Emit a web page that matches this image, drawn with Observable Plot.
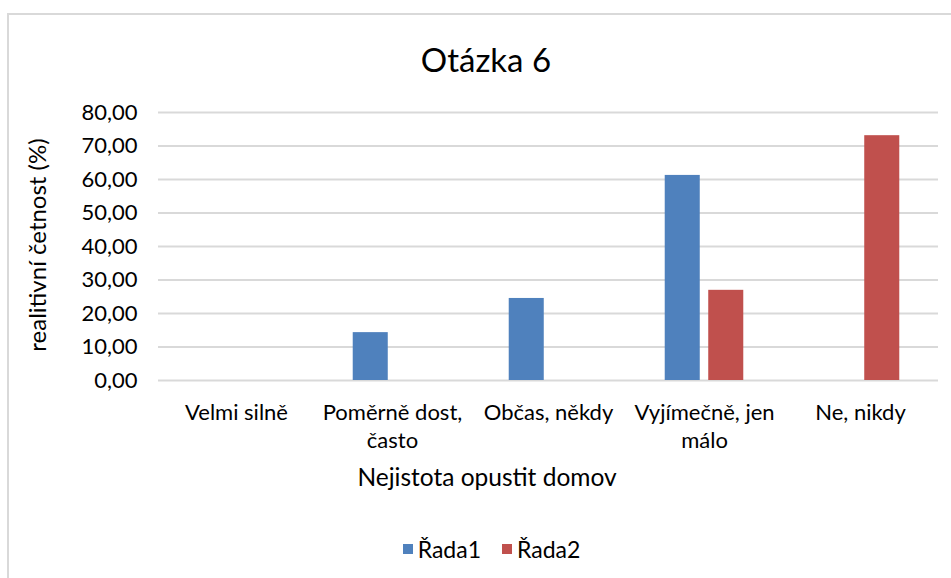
<!DOCTYPE html>
<html>
<head>
<meta charset="utf-8">
<script src="https://cdn.jsdelivr.net/npm/d3@7"></script>
<script src="https://cdn.jsdelivr.net/npm/@observablehq/plot@0.6"></script>
<style>
  html, body { margin: 0; padding: 0; background: #fff; }
  body { width: 951px; height: 578px; position: relative; overflow: hidden; font-family: Lato, "Open Sans", sans-serif; color: #000; }
  #frame { position: absolute; left: 7px; top: 13px; width: 1000px; height: 600px; border-top: 2px solid #d9d9d9; border-left: 2px solid #d9d9d9; }
  #chart { position: absolute; left: 0; top: 0; }
  #title { position: absolute; left: 0; width: 972px; top: 40px; text-align: center; font-size: 33px; line-height: 38px; }
  #ytitle { position: absolute; left: 37px; top: 245px; width: 300px; margin-left: -150px; margin-top: -15px; height: 30px; line-height: 30px; text-align: center; font-size: 24px; transform: rotate(-90deg); white-space: nowrap; }
  #xtitle { position: absolute; left: 0; width: 974px; top: 463px; text-align: center; font-size: 24.5px; line-height: 28px; }
  #legend { position: absolute; left: 0; width: 983px; top: 536px; display: flex; justify-content: center; gap: 21px; font-size: 23px; line-height: 26px; }
  #legend span.item { display: inline-flex; align-items: center; gap: 5px; }
  #legend span.sw { display: inline-block; width: 10px; height: 10px; }
</style>
</head>
<body>
<div id="frame"></div>
<div id="chart"></div>
<div id="title">Otázka 6</div>
<div id="ytitle"></div>
<div id="xtitle">Nejistota opustit domov</div>
<div id="legend"></div>
<script>
const categories = ["Velmi silně", "Poměrně dost, často", "Občas, někdy", "Vyjímečně, jen málo", "Ne, nikdy"];
const tickLabels = ["Velmi silně", "Poměrně dost,\nčasto", "Občas, někdy", "Vyjímečně, jen\nmálo", "Ne, nikdy"];
const seriesNames = ["Řada1", "Řada2"];
const seriesColors = ["#4F81BD", "#C0504D"];
const rada1 = [0, 14.29, 24.49, 61.22, 0];
const rada2 = [0, 0, 0, 26.92, 73.08];
const yTicks = [0, 10, 20, 30, 40, 50, 60, 70, 80];
const yLabel = "realitivní četnost (%)";

document.getElementById("ytitle").textContent = yLabel;

const rows = [];
categories.forEach((c, i) => {
  rows.push({category: c, series: seriesNames[0], value: rada1[i]});
  rows.push({category: c, series: seriesNames[1], value: rada2[i]});
});
const labelMap = new Map(categories.map((c, i) => [c, tickLabels[i]]));
const fmt = d => d3.format(".2f")(d).replace(".", ",");

const plot = Plot.plot({
  width: 951,
  height: 500,
  marginLeft: 158,
  marginRight: 13,
  marginTop: 112,
  marginBottom: 120,
  style: {fontFamily: "Lato, 'Open Sans', sans-serif", fontSize: "22px", color: "#000", background: "transparent"},
  fx: {domain: categories, padding: 0},
  x: {domain: seriesNames, paddingInner: 0.195, paddingOuter: 0.89, axis: null, round: false},
  y: {domain: [0, 80]},
  color: {domain: seriesNames, range: seriesColors},
  marks: [
    Plot.gridY(yTicks, {stroke: "#d9d9d9", strokeOpacity: 1, strokeWidth: 2}),
    Plot.barY(rows, {fx: "category", x: "series", y: "value", fill: "series"}),
    Plot.axisY({ticks: yTicks, tickFormat: fmt, tickSize: 0, tickPadding: 21, fontSize: 22, label: null}),
    Plot.axisFx({anchor: "bottom", tickSize: 0, tickPadding: 20, fontSize: 22, lineHeight: 1.27,
      tickFormat: d => labelMap.get(d), label: null})
  ]
});
document.getElementById("chart").appendChild(plot);

const legend = document.getElementById("legend");
seriesNames.forEach((s, i) => {
  const item = document.createElement("span");
  item.className = "item";
  const sw = document.createElement("span");
  sw.className = "sw";
  sw.style.background = seriesColors[i];
  item.appendChild(sw);
  item.appendChild(document.createTextNode(s));
  legend.appendChild(item);
});
</script>
</body>
</html>
